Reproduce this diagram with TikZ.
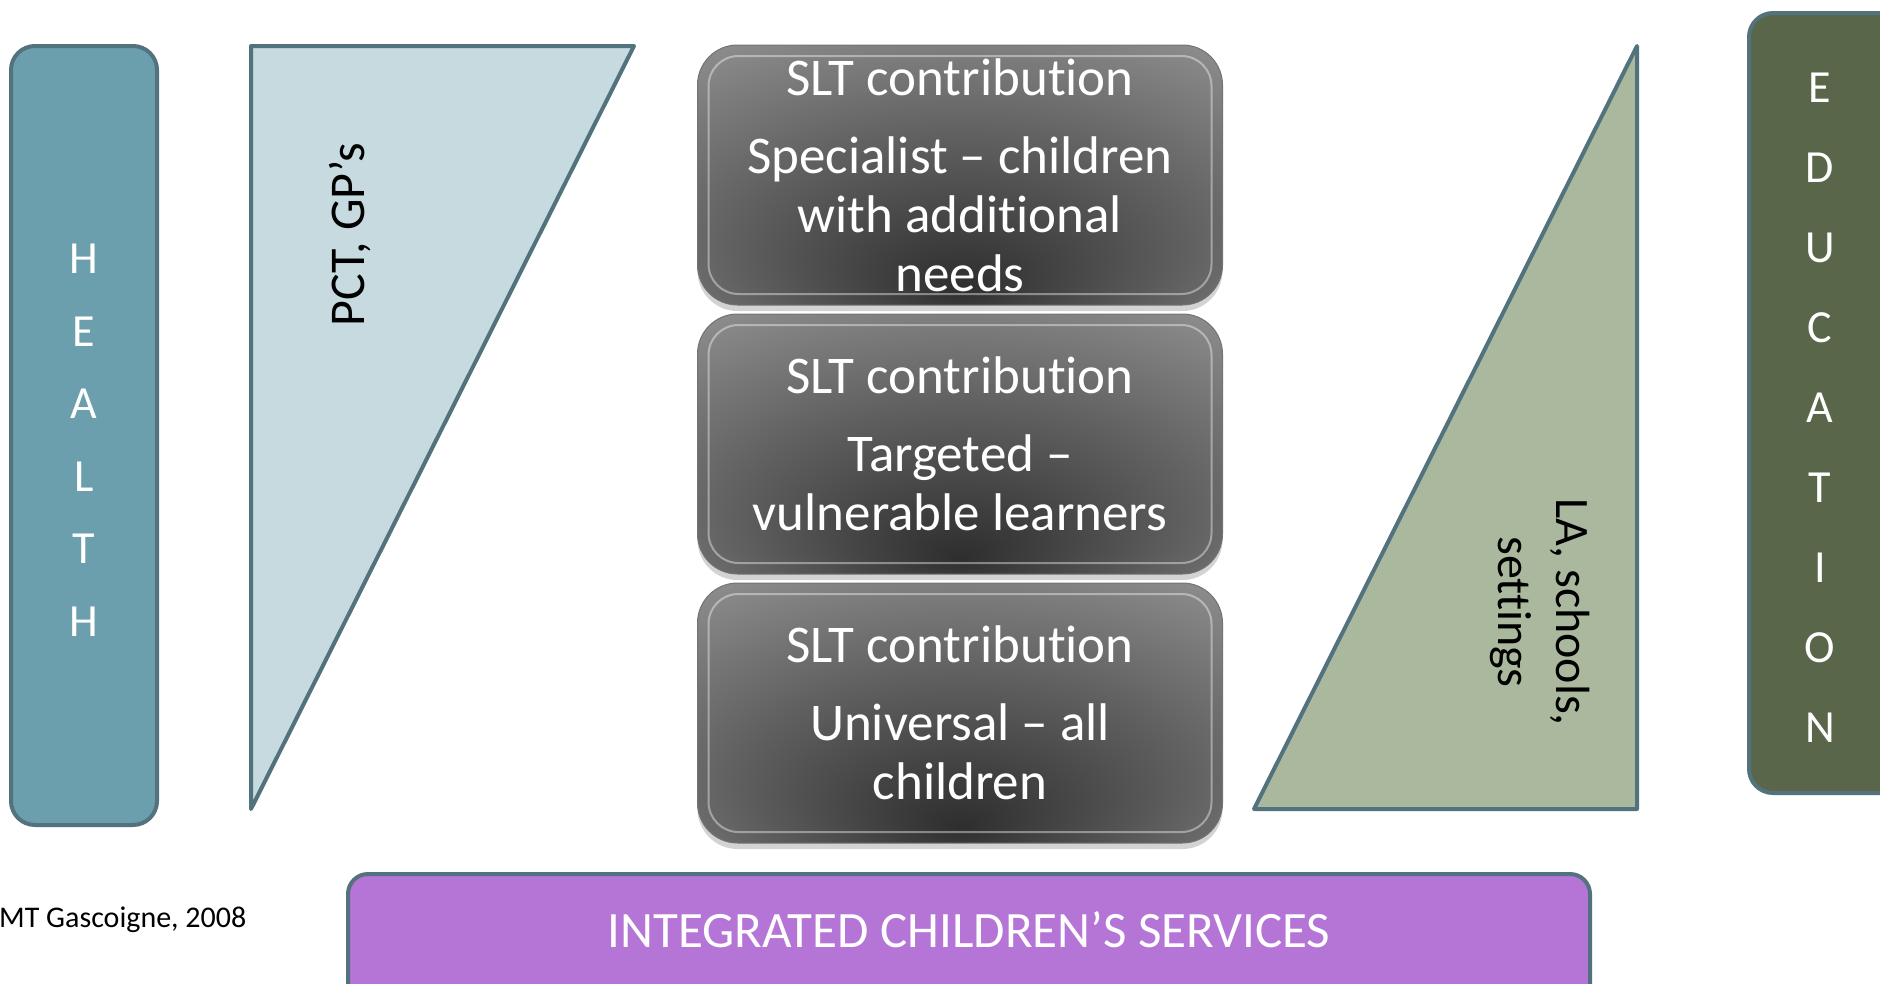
\documentclass[tikz,border=0pt]{standalone}
\usepackage{fontspec}
\setmainfont{Carlito}[RawFeature={-liga;-clig;-dlig;-calt;-rlig}]
\usetikzlibrary{positioning,shadows}

\definecolor{slate}{HTML}{52727E}
\definecolor{healthteal}{HTML}{6C9FAE}
\definecolor{paleblue}{HTML}{C6DADF}
\definecolor{sage}{HTML}{AAB99D}
\definecolor{olive}{HTML}{5A6649}
\definecolor{lilac}{HTML}{B575D7}

\pgfdeclareradialshading{sltshade}{\pgfpoint{0bp}{-22bp}}{color(0bp)=(black!82); color(22bp)=(black!62); color(45bp)=(black!40); color(60bp)=(black!32)}

\tikzset{
  sidebox/.style={draw=slate, line width=4pt, rounded corners=24pt},
  wedge/.style={draw=slate, line width=4pt, line join=round},
  sltbox/.style={rectangle, rounded corners=40pt, draw=black!55, line width=1pt,
    shading=sltshade, minimum width=525pt, minimum height=260pt, inner sep=0pt,
    drop shadow={shadow xshift=0pt, shadow yshift=-6pt, opacity=.35},
    text=white, align=center, font=\fontsize{53}{59}\selectfont,
    path picture={\draw[white, opacity=.4, line width=2pt, rounded corners=30pt]
      ([shift={(11pt,-11pt)}]path picture bounding box.north west) rectangle
      ([shift={(-11pt,11pt)}]path picture bounding box.south east);}},
}

\begin{document}
\begin{tikzpicture}[x=1pt,y=-1pt]

\useasboundingbox (0,0) rectangle (1880,983);

% Health
\draw[sidebox, fill=healthteal] (11,46) rectangle (157,825);
\node[text=white, align=center, font=\fontsize{46}{72.5}\selectfont] (health) at (84,440) {H\\E\\A\\L\\T\\H};

\draw[wedge, fill=paleblue] (251,46) -- (634,46) -- (251,809) -- cycle;
\node[rotate=90, font=\fontsize{50}{58}\selectfont] (pct) at (350,235) {PCT, GP’s};

% SLT contributions
\node[sltbox] (slt1) at (960,175) {SLT contribution\\[19pt]Specialist – children\\with additional\\needs};

\node[sltbox, below=8pt of slt1] (slt2) {SLT contribution\\[19pt]Targeted –\\vulnerable learners};

\node[sltbox, below=8pt of slt2] (slt3) {SLT contribution\\[19pt]Universal – all\\children};

% Education
\draw[wedge, fill=sage] (1637,46) -- (1637,809) -- (1254,809) -- cycle;
\node[rotate=-90, align=center, font=\fontsize{48}{58}\selectfont] (la) at (1540,612) {LA, schools,\\settings};

\draw[sidebox, fill=olive] (1749,13) rectangle (1910,793);
\node[text=white, align=center, font=\fontsize{46}{80}\selectfont] (edu) at (1820,408) {E\\D\\U\\C\\A\\T\\I\\O\\N};

% Integrated services
\draw[sidebox, rounded corners=20pt, fill=lilac] (348,874) rectangle (1590,1010);
\node[text=white, font=\fontsize{51}{58}\selectfont] (ics) at (969,930) {INTEGRATED CHILDREN’S SERVICES};

\node[anchor=west, inner sep=0pt, font=\fontsize{30}{34}\selectfont] (credit) at (-1,920) {MT Gascoigne, 2008};

\end{tikzpicture}
\end{document}
